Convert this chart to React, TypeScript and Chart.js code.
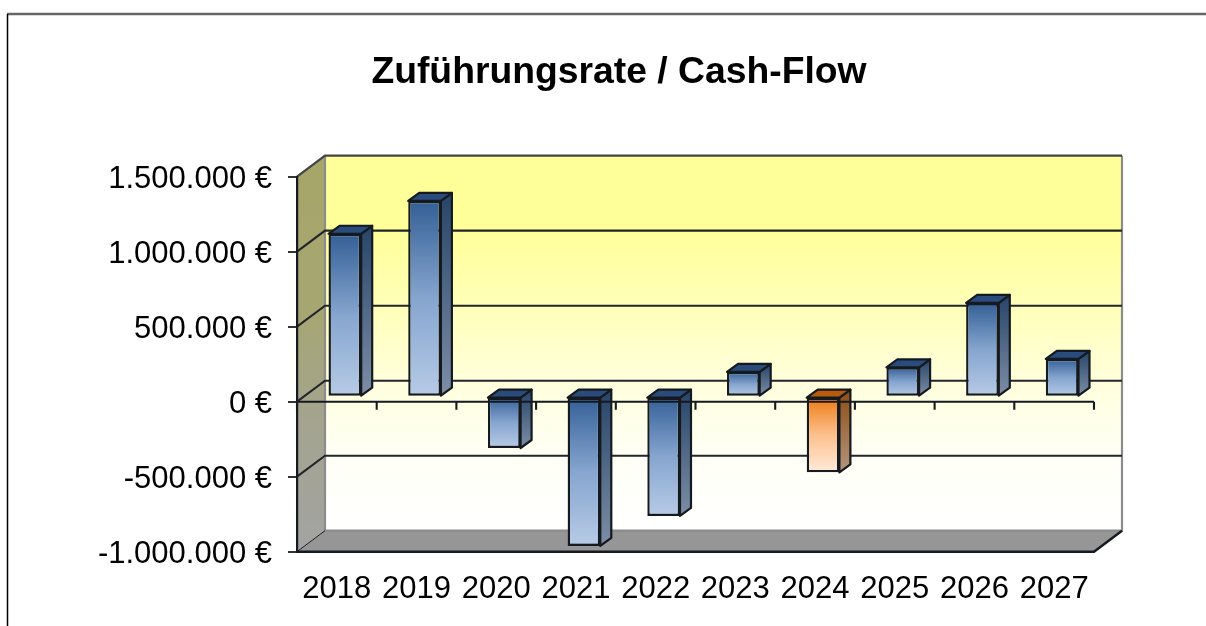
import React, { useEffect, useRef } from "react";
import { Chart, registerables } from "chart.js";

Chart.register(...registerables);

const years = ["2018", "2019", "2020", "2021", "2022", "2023", "2024", "2025", "2026", "2027"];
const cashFlow = [1086000, 1305000, -342000, -995000, -795000, 165000, -504000, 196000, 625000, 252000];
const highlightYear = "2024";
const titleText = "Zuführungsrate / Cash-Flow";

const FONT = '"Liberation Sans", Arial, sans-serif';
const WALL = { dx: 28, dy: -21 };
const BAR_FRONT = { dx: 8, dy: -5 };
const BAR_DEPTH = { dx: 11, dy: -8 };
const DARK = "#151a20";
const TITLE_SHIFT = 27;

const blue = { front: ["#345f96", "#86a5cf", "#b7cbe6"], side: ["#274468", "#7d8ea6"], top: "#2a4c7c" };
const orange = { front: ["#ee7a12", "#fcc08c", "#ffeadb"], side: ["#8c4d12", "#b39680"], top: "#b85a0e" };

const paletteFor = (i: number) => (years[i] === highlightYear ? orange : blue);

const fmt = (v: number) => {
  const s = String(Math.abs(v)).replace(/\B(?=(\d{3})+(?!\d))/g, ".");
  return (v < 0 ? "-" : "") + s + " €";
};

function path(ctx: CanvasRenderingContext2D, pts: number[][]) {
  ctx.beginPath();
  pts.forEach((p, i) => (i ? ctx.lineTo(p[0], p[1]) : ctx.moveTo(p[0], p[1])));
  ctx.closePath();
}

const scene = {
  id: "scene3d",
  afterLayout(chart: any) {
    // the title sits to the right of the centre of the frame
    const box = chart.titleBlock;
    if (box) {
      box.left += TITLE_SHIFT;
      box.right += TITLE_SHIFT;
    }
  },
  beforeDraw(chart: any) {
    const { ctx, chartArea: a, scales } = chart;
    const { left: l, right: r, top: t, bottom: b } = a;
    const { dx, dy } = WALL;
    ctx.save();

    // outer frame
    ctx.strokeStyle = "#666";
    ctx.lineWidth = 2.5;
    ctx.beginPath();
    ctx.moveTo(7, 14);
    ctx.lineTo(1206, 14);
    ctx.stroke();
    ctx.strokeStyle = "#000";
    ctx.lineWidth = 1.5;
    ctx.beginPath();
    ctx.moveTo(7.5, 14);
    ctx.lineTo(7.5, 626);
    ctx.stroke();

    // back wall
    const g = ctx.createLinearGradient(0, t + dy, 0, b + dy);
    g.addColorStop(0, "#ffff99");
    g.addColorStop(0.2, "#ffff99");
    g.addColorStop(0.4, "#ffffb8");
    g.addColorStop(0.6, "#ffffdc");
    g.addColorStop(0.8, "#fffff6");
    g.addColorStop(1, "#ffffff");
    ctx.fillStyle = g;
    ctx.fillRect(l + dx, t + dy, r - l, b - t);

    // side wall
    const s = ctx.createLinearGradient(0, t, 0, b);
    s.addColorStop(0, "#a6a66a");
    s.addColorStop(0.35, "#a6a672");
    s.addColorStop(0.65, "#a4a48f");
    s.addColorStop(1, "#a3a3a3");
    ctx.fillStyle = s;
    path(ctx, [[l, t], [l + dx, t + dy], [l + dx, b + dy], [l, b]]);
    ctx.fill();

    // floor
    ctx.fillStyle = "#969696";
    path(ctx, [[l, b], [l + dx, b + dy], [r + dx, b + dy], [r, b]]);
    ctx.fill();

    // wall edges
    ctx.strokeStyle = "#8c8c8c";
    ctx.lineWidth = 2.2;
    ctx.beginPath();
    ctx.moveTo(l + dx, t + dy);
    ctx.lineTo(l + dx, b + dy);
    ctx.lineTo(r + dx, b + dy);
    ctx.lineTo(r + dx, t + dy);
    ctx.stroke();
    ctx.strokeStyle = "#444";
    ctx.beginPath();
    ctx.moveTo(l, t);
    ctx.lineTo(l + dx, t + dy);
    ctx.lineTo(r + dx, t + dy);
    ctx.stroke();

    // grid lines on side wall and back wall
    ctx.strokeStyle = "#22262a";
    ctx.lineWidth = 2.1;
    scales.y.ticks.forEach((tick: any) => {
      if (tick.value <= scales.y.min || tick.value >= scales.y.max) return;
      const y = scales.y.getPixelForValue(tick.value);
      ctx.beginPath();
      ctx.moveTo(l, y);
      ctx.lineTo(l + dx, y + dy);
      ctx.lineTo(r + dx, y + dy);
      ctx.stroke();
    });

    // floor outline
    ctx.strokeStyle = DARK;
    ctx.lineWidth = 2.4;
    ctx.beginPath();
    ctx.moveTo(l, b);
    ctx.lineTo(r, b);
    ctx.lineTo(r + dx, b + dy);
    ctx.stroke();
    ctx.lineWidth = 1;
    ctx.beginPath();
    ctx.moveTo(l, b);
    ctx.lineTo(l + dx, b + dy);
    ctx.stroke();
    ctx.restore();
  },
  beforeDatasetDraw(chart: any) {
    const { ctx } = chart;
    const meta = chart.getDatasetMeta(0);
    ctx.save();
    ctx.translate(BAR_FRONT.dx, BAR_FRONT.dy);
    const { dx, dy } = BAR_DEPTH;
    ctx.lineWidth = 2.2;
    ctx.strokeStyle = DARK;
    ctx.lineJoin = "round";
    meta.data.forEach((bar: any, i: number) => {
      const p = paletteFor(i);
      const left = bar.x - bar.width / 2;
      const right = bar.x + bar.width / 2;
      const top = Math.min(bar.y, bar.base);
      const bottom = Math.max(bar.y, bar.base);
      const sg = ctx.createLinearGradient(0, top + dy, 0, bottom);
      sg.addColorStop(0, p.side[0]);
      sg.addColorStop(1, p.side[1]);
      ctx.fillStyle = sg;
      path(ctx, [[right, top], [right + dx, top + dy], [right + dx, bottom + dy], [right, bottom]]);
      ctx.fill();
      ctx.stroke();
      ctx.fillStyle = p.top;
      path(ctx, [[left, top], [left + dx, top + dy], [right + dx, top + dy], [right, top]]);
      ctx.fill();
      ctx.stroke();
    });
  },
  afterDatasetDraw(chart: any) {
    chart.ctx.restore();
  },
  afterDatasetsDraw(chart: any) {
    const { ctx, chartArea: a, scales } = chart;
    const y0 = scales.y.getPixelForValue(0);
    ctx.save();
    ctx.strokeStyle = DARK;
    ctx.lineWidth = 2.1;
    ctx.beginPath();
    ctx.moveTo(a.left, y0);
    ctx.lineTo(a.right, y0);
    years.forEach((_, i) => {
      const x = a.left + ((a.right - a.left) * (i + 1)) / years.length;
      ctx.moveTo(x, y0);
      ctx.lineTo(x, y0 + 8);
    });
    ctx.moveTo(a.left, y0);
    ctx.lineTo(a.left, y0 + 8);
    ctx.stroke();
    ctx.restore();
  },
};

export default function App() {
  const ref = useRef<HTMLCanvasElement>(null);
  useEffect(() => {
    const chart = new Chart(ref.current!, {
      type: "bar",
      data: {
        labels: years,
        datasets: [
          {
            data: cashFlow,
            categoryPercentage: 1,
            barPercentage: 0.41,
            borderWidth: 2.4,
            borderColor: DARK,
            borderSkipped: false,
            backgroundColor: (c: any) => {
              const i = c.dataIndex ?? 0;
              const p = paletteFor(i);
              const ys = c.chart.scales?.y;
              if (!ys) return p.front[1];
              const a = ys.getPixelForValue(Math.max(cashFlow[i], 0));
              const b = ys.getPixelForValue(Math.min(cashFlow[i], 0));
              if (!Number.isFinite(a) || !Number.isFinite(b)) return p.front[1];
              const g = c.chart.ctx.createLinearGradient(0, a, 0, b);
              g.addColorStop(0, p.front[0]);
              g.addColorStop(0.5, p.front[1]);
              g.addColorStop(1, p.front[2]);
              return g;
            },
          },
        ],
      },
      options: {
        responsive: false,
        animation: false,
        layout: { padding: { left: 90, right: 112, top: 0, bottom: 0 } },
        plugins: {
          legend: { display: false },
          tooltip: { enabled: false },
          title: {
            display: true,
            text: titleText,
            color: "#000",
            font: { family: FONT, size: 37.3, weight: "bold", lineHeight: 1.2 },
            padding: { top: 50.5, bottom: 81.4 },
          },
        },
        scales: {
          x: {
            afterFit: (s: any) => {
              s.height = 74.3;
            },
            grid: { display: false, drawTicks: false },
            border: { display: false },
            ticks: { color: "#000", font: { family: FONT, size: 31 }, padding: 19, maxRotation: 0, autoSkip: false },
          },
          y: {
            min: -1000000,
            max: 1500000,
            afterFit: (s: any) => {
              s.width = 207;
            },
            grid: { drawOnChartArea: false, drawTicks: true, tickLength: 9, color: "#333", lineWidth: 2 },
            border: { display: true, color: DARK, width: 2.2 },
            ticks: {
              stepSize: 500000,
              color: "#000",
              padding: 16,
              labelOffset: 3,
              font: { family: FONT, size: 31 },
              callback: (v: any) => fmt(Number(v)),
            },
          },
        },
      },
      plugins: [scene],
    } as any);
    return () => chart.destroy();
  }, []);
  return (
    <div style={{ position: "fixed", left: 0, top: 0, width: 1206, height: 626, background: "#fff" }}>
      <canvas ref={ref} width={1206} height={626} style={{ display: "block", width: 1206, height: 626 }} />
    </div>
  );
}
